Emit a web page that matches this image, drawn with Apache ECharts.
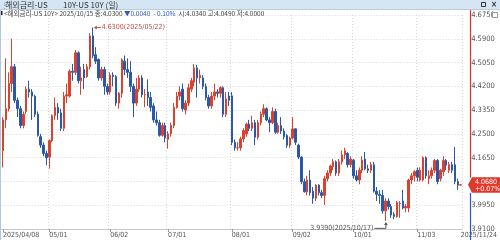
<!DOCTYPE html>
<html><head><meta charset="utf-8">
<script src="https://cdn.jsdelivr.net/npm/echarts@6/dist/echarts.min.js"></script>
<style>html,body{margin:0;padding:0;background:#fff;overflow:hidden}#c{width:500px;height:240px}</style>
</head><body><div id="c"></div>
<script>
// ---------- data ----------
const dates = [
'2025/04/08','2025/04/09','2025/04/10','2025/04/11','2025/04/14','2025/04/15','2025/04/16','2025/04/17','2025/04/21','2025/04/22','2025/04/23','2025/04/24','2025/04/25','2025/04/28','2025/04/29','2025/04/30',
'2025/05/01','2025/05/02','2025/05/05','2025/05/06','2025/05/07','2025/05/08','2025/05/09','2025/05/12','2025/05/13','2025/05/14','2025/05/15','2025/05/16','2025/05/19','2025/05/20','2025/05/21','2025/05/22','2025/05/23','2025/05/27','2025/05/28','2025/05/29','2025/05/30',
'2025/06/02','2025/06/03','2025/06/04','2025/06/05','2025/06/06','2025/06/09','2025/06/10','2025/06/11','2025/06/12','2025/06/13','2025/06/16','2025/06/17','2025/06/18','2025/06/20','2025/06/23','2025/06/24','2025/06/25','2025/06/26','2025/06/27','2025/06/30',
'2025/07/01','2025/07/02','2025/07/03','2025/07/07','2025/07/08','2025/07/09','2025/07/10','2025/07/11','2025/07/14','2025/07/15','2025/07/16','2025/07/17','2025/07/18','2025/07/21','2025/07/22','2025/07/23','2025/07/24','2025/07/25','2025/07/28','2025/07/29','2025/07/30','2025/07/31',
'2025/08/01','2025/08/04','2025/08/05','2025/08/06','2025/08/07','2025/08/08','2025/08/11','2025/08/12','2025/08/13','2025/08/14','2025/08/15','2025/08/18','2025/08/19','2025/08/20','2025/08/21','2025/08/22','2025/08/25','2025/08/26','2025/08/27','2025/08/28','2025/08/29',
'2025/09/02','2025/09/03','2025/09/04','2025/09/05','2025/09/08','2025/09/09','2025/09/10','2025/09/11','2025/09/12','2025/09/15','2025/09/16','2025/09/17','2025/09/18','2025/09/19','2025/09/22','2025/09/23','2025/09/24','2025/09/25','2025/09/26','2025/09/29','2025/09/30',
'2025/10/01','2025/10/02','2025/10/03','2025/10/06','2025/10/07','2025/10/08','2025/10/09','2025/10/10','2025/10/14','2025/10/15','2025/10/16','2025/10/17','2025/10/20','2025/10/21','2025/10/22','2025/10/23','2025/10/24','2025/10/27','2025/10/28','2025/10/29','2025/10/30','2025/10/31',
'2025/11/03','2025/11/04','2025/11/05','2025/11/06','2025/11/07','2025/11/10','2025/11/11','2025/11/12','2025/11/13','2025/11/14','2025/11/17','2025/11/18','2025/11/19','2025/11/20','2025/11/21','2025/11/24'
];
const openV = [
4.19,4.30,4.34,4.43,4.49,4.37,4.34,4.28,4.33,4.41,4.40,4.385,4.32,4.24,4.21,4.18,
4.167,4.226,4.315,4.345,4.325,4.27,4.385,4.385,4.474,4.47,4.54,4.44,4.48,4.455,4.49,4.60,4.533,4.516,4.45,4.48,4.42,4.40,4.46,4.455,4.36,4.395,
4.51,4.48,4.47,4.42,4.36,4.41,4.45,4.39,4.40,4.38,4.35,4.30,4.29,4.245,4.28,4.23,
4.25,4.28,4.345,4.385,4.41,4.335,4.36,4.41,4.435,4.486,4.45,4.45,4.42,4.38,4.35,4.385,4.40,4.395,4.415,4.32,4.385,4.386,
4.22,4.20,4.20,4.232,4.25,4.285,4.27,4.29,4.238,4.29,4.32,4.34,4.30,4.29,4.33,4.256,4.28,4.26,4.244,4.209,4.235,
4.268,4.21,4.167,4.079,4.043,4.085,4.045,4.02,4.067,4.04,4.03,4.09,4.11,4.133,4.15,4.11,4.15,4.175,4.18,4.14,
4.156,4.10,4.085,4.12,4.16,4.125,4.12,4.14,4.045,4.034,4.03,3.975,4.01,3.99,3.962,3.955,4.00,4.01,3.985,3.985,4.085,4.10,
4.12,4.085,4.085,4.165,4.09,4.10,4.12,4.155,4.09,4.115,4.155,4.12,4.14,4.14,4.08,4.067
];
const closeV = [
4.30,4.34,4.43,4.49,4.37,4.34,4.28,4.32,4.41,4.40,4.385,4.32,4.245,4.21,4.18,4.165,
4.226,4.315,4.345,4.325,4.27,4.385,4.39,4.474,4.47,4.54,4.44,4.45,4.45,4.49,4.60,4.53,4.51,4.45,4.48,4.42,4.40,4.46,4.455,4.36,4.395,4.515,
4.48,4.47,4.42,4.36,4.41,4.45,4.39,4.39,4.38,4.345,4.30,4.29,4.245,4.28,4.235,4.25,
4.28,4.345,4.385,4.40,4.34,4.36,4.415,4.44,4.486,4.45,4.46,4.42,4.38,4.35,4.385,4.40,4.395,4.415,4.32,4.375,4.37,4.22,
4.20,4.20,4.232,4.262,4.285,4.27,4.29,4.238,4.29,4.32,4.34,4.30,4.29,4.33,4.256,4.28,4.26,4.24,4.209,4.235,4.268,
4.22,4.167,4.079,4.043,4.085,4.04,4.02,4.067,4.04,4.03,4.09,4.11,4.135,4.15,4.11,4.15,4.175,4.19,4.14,4.16,
4.10,4.085,4.12,4.156,4.125,4.12,4.14,4.045,4.034,4.030,3.975,4.01,3.99,3.96,3.955,4.005,4.002,3.985,3.99,4.085,4.10,4.115,
4.095,4.12,4.165,4.10,4.10,4.12,4.155,4.08,4.12,4.155,4.138,4.14,4.12,4.08,4.067,4.068
];
const lowV = [
4.13,4.27,4.33,4.40,4.36,4.31,4.27,4.27,4.32,4.38,4.30,4.31,4.24,4.20,4.17,4.138,
4.126,4.22,4.30,4.30,4.26,4.26,4.36,4.38,4.44,4.46,4.43,4.39,4.41,4.45,4.48,4.52,4.50,4.44,4.44,4.39,4.39,4.39,4.42,4.35,4.34,4.38,
4.46,4.45,4.40,4.31,4.35,4.40,4.38,4.345,4.35,4.33,4.29,4.28,4.24,4.24,4.22,4.197,
4.24,4.27,4.34,4.37,4.33,4.32,4.35,4.40,4.42,4.38,4.43,4.41,4.37,4.34,4.34,4.37,4.38,4.38,4.31,4.31,4.35,4.21,
4.19,4.19,4.19,4.22,4.24,4.26,4.26,4.21,4.23,4.28,4.31,4.295,4.256,4.285,4.25,4.25,4.25,4.23,4.20,4.20,4.23,
4.21,4.16,4.07,4.04,4.03,4.03,4.00,4.01,4.03,4.02,3.996,4.08,4.10,4.12,4.10,4.10,4.14,4.16,4.13,4.13,
4.09,4.08,4.07,4.11,4.12,4.11,4.11,4.04,4.01,4.00,3.965,3.939,3.98,3.95,3.945,3.95,3.95,3.98,3.97,3.97,4.07,4.08,
4.08,4.08,4.08,4.09,4.07,4.09,4.11,4.07,4.08,4.10,4.12,4.11,4.11,4.07,4.05,4.065
];
const highV = [
4.31,4.52,4.47,4.59,4.50,4.38,4.35,4.33,4.42,4.44,4.41,4.39,4.33,4.25,4.22,4.19,
4.23,4.32,4.38,4.36,4.34,4.40,4.43,4.48,4.50,4.55,4.545,4.49,4.50,4.50,4.61,4.63,4.56,4.52,4.49,4.49,4.43,4.47,4.47,4.46,4.40,4.52,
4.53,4.52,4.51,4.43,4.45,4.46,4.46,4.41,4.445,4.40,4.36,4.33,4.30,4.29,4.29,4.26,
4.29,4.36,4.40,4.42,4.43,4.37,4.43,4.45,4.50,4.497,4.48,4.46,4.43,4.39,4.40,4.43,4.41,4.42,4.42,4.40,4.40,4.40,
4.23,4.22,4.24,4.27,4.29,4.30,4.315,4.30,4.30,4.33,4.356,4.345,4.31,4.345,4.34,4.29,4.31,4.27,4.25,4.24,4.31,
4.27,4.215,4.17,4.09,4.10,4.12,4.06,4.07,4.07,4.05,4.10,4.12,4.14,4.16,4.155,4.16,4.19,4.20,4.185,4.17,
4.16,4.12,4.13,4.17,4.185,4.14,4.15,4.15,4.06,4.049,4.05,4.02,4.02,4.00,3.97,4.01,4.01,4.05,4.00,4.09,4.11,4.12,
4.13,4.13,4.17,4.17,4.12,4.13,4.16,4.16,4.125,4.17,4.16,4.15,4.15,4.203,4.09,4.07
];
const yMin = 3.91, yMax = 4.675, yStep = 0.085;
const lastValue = 4.068, lastChange = '+0.07%';
const maxMark = { date: '2025/05/22', value: 4.63 };
const minMark = { date: '2025/10/17', value: 3.939 };
const titleLeft = '해외금리-US', titleRight = '10Y-US 10Y (일)';
const infoDate = '2025/10/15', infoClose = '4.0300', infoChg = '▼0.0040  - 0.10%', infoOpen = '4.0340', infoHigh = '4.0490', infoLow = '4.0000';

// ---------- chart ----------
const UP = '#dc412e', DOWN = '#2c58a8';
const F = "'Liberation Sans Narrow','DejaVu Sans Condensed','Liberation Sans','Noto Sans CJK KR',sans-serif";
const KF = "'Noto Sans CJK KR','Liberation Sans',sans-serif";
const ohlc = dates.map((d, i) => [openV[i], closeV[i], lowV[i], highV[i]]);
const isMonthStart = i => i === 0 || dates[i].slice(5, 7) !== dates[i - 1].slice(5, 7);
const showLabel = i => isMonthStart(i) || i === dates.length - 1;

const chart = echarts.init(document.getElementById('c'), null, { renderer: 'canvas' });
chart.setOption({
  animation: false,
  backgroundColor: '#fff',
  grid: { left: 0, right: 36, top: 15, bottom: 11, containLabel: false },
  xAxis: {
    type: 'category', data: dates, boundaryGap: true,
    axisLine: { show: true, lineStyle: { color: '#c8c8c8', width: 1 } },
    axisTick: { show: true, length: 3, alignWithLabel: true, interval: i => isMonthStart(i), lineStyle: { color: '#999' } },
    axisLabel: {
      interval: i => showLabel(i), align: 'left', margin: 3, fontSize: 7, color: '#555', fontFamily: F,
      formatter: (v, i) => (i === 0 || i === dates.length - 1) ? v : v.slice(5)
    },
    splitLine: { show: true, interval: i => isMonthStart(i) && i > 0, lineStyle: { color: '#d6d6d6', type: [1, 2] } }
  },
  yAxis: {
    type: 'value', position: 'right', offset: 6, min: yMin, max: yMax, interval: yStep, scale: true,
    axisLine: { show: false }, axisTick: { show: false },
    axisLabel: { fontSize: 7.5, color: '#555', fontFamily: F, margin: 3, formatter: v => v.toFixed(4), showMinLabel: true, showMaxLabel: true },
    splitLine: { show: true, lineStyle: { color: '#d6d6d6', type: [1, 2] } }
  },
  series: [{
    type: 'candlestick', data: ohlc, barWidth: 2,
    itemStyle: { color: UP, color0: DOWN, borderColor: UP, borderColor0: DOWN, borderWidth: 1 }
  }]
});

// ---------- overlays derived from the chart's own scales ----------
const px = (i, v) => chart.convertToPixel({ xAxisIndex: 0, yAxisIndex: 0 }, [i, v]);
const yLast = px(dates.length - 1, lastValue)[1];
const axisX = 470.5;
const maxIdx = dates.indexOf(maxMark.date), minIdx = dates.indexOf(minMark.date);
const pMax = px(maxIdx, maxMark.value), pMin = px(minIdx, minMark.value);
const g = [];
// header band
g.push({ type: 'rect', shape: { x: 0, y: 0, width: 500, height: 9 }, style: { fill: '#d5e5f3' }, z: 10 });
g.push({ type: 'line', shape: { x1: 0, y1: 9.5, x2: 500, y2: 9.5 }, style: { stroke: '#b9cde0', lineWidth: 1 }, z: 10 });
g.push({ type: 'text', x: 1, y: 5, style: { text: '⋮', fill: '#7a8a9a', verticalAlign: 'middle', font: '7px ' + KF }, z: 11 });
g.push({ type: 'text', x: 5, y: 5, style: { text: titleLeft, font: '8px ' + KF, fill: '#333', verticalAlign: 'middle' }, z: 11 });
g.push({ type: 'text', x: 63, y: 5, style: { text: titleRight, font: '8px ' + KF, fill: '#333', verticalAlign: 'middle' }, z: 11 });
g.push({ type: 'rect', shape: { x: 481.5, y: 2.5, width: 4, height: 4 }, style: { fill: 'none', stroke: '#333', lineWidth: 1 }, z: 11 });
g.push({ type: 'text', x: 491, y: 5, style: { text: '×', font: 'bold 8px ' + F, fill: '#333', verticalAlign: 'middle' }, z: 11 });
// info line
g.push({ type: 'rect', shape: { x: 1, y: 11, width: 1.5, height: 4 }, style: { fill: '#222' }, z: 11 });
g.push({ type: 'text', x: 4, y: 13.5, style: {
  text: '{b|<' + titleLeft + ' 10Y> ' + infoDate + ' 종:' + infoClose + ' }{c|' + infoChg + '}{b|  시:' + infoOpen + ' 고:' + infoHigh + ' 저:' + infoLow + '}',
  verticalAlign: 'middle',
  rich: { b: { font: '6.5px ' + KF, fill: '#444' }, c: { font: '6.5px ' + KF, fill: '#3158b0' } }
}, z: 11 });
// left border
g.push({ type: 'line', shape: { x1: 0.5, y1: 10, x2: 0.5, y2: 240 }, style: { stroke: '#b7c6d6', lineWidth: 1 }, z: 11 });
// right axis line (red above current, blue below)
g.push({ type: 'line', shape: { x1: axisX, y1: 10, x2: axisX, y2: yLast - 7 }, style: { stroke: '#d8302a', lineWidth: 1.2 }, z: 11 });
g.push({ type: 'line', shape: { x1: axisX, y1: yLast + 8, x2: axisX, y2: 240 }, style: { stroke: '#3158b0', lineWidth: 1.2 }, z: 11 });
// current value tag
g.push({ type: 'polygon', shape: { points: [[468, yLast], [472, yLast - 7.5], [500, yLast - 7.5], [500, yLast + 8], [472, yLast + 8]] }, style: { fill: '#e0382c' }, z: 12 });
g.push({ type: 'text', x: 475, y: yLast - 3, style: { text: lastValue.toFixed(4), font: '7px ' + F, fill: '#fff', verticalAlign: 'middle' }, z: 13 });
g.push({ type: 'text', x: 475, y: yLast + 4, style: { text: lastChange, font: '7px ' + F, fill: '#fff', verticalAlign: 'middle' }, z: 13 });
// icon near top label
g.push({ type: 'rect', shape: { x: 492.5, y: 12.5, width: 5, height: 5 }, style: { fill: '#fff', stroke: '#999', lineWidth: 1 }, z: 12 });
// max annotation
g.push({ type: 'line', shape: { x1: pMax[0] + 2, y1: pMax[1], x2: pMax[0] + 8, y2: pMax[1] }, style: { stroke: '#c0504d', lineWidth: 1 }, z: 12 });
g.push({ type: 'polygon', shape: { points: [[pMax[0] + 1, pMax[1]], [pMax[0] + 4, pMax[1] - 1.8], [pMax[0] + 4, pMax[1] + 1.8]] }, style: { fill: '#c0504d' }, z: 12 });
g.push({ type: 'text', x: pMax[0] + 9, y: pMax[1], style: { text: maxMark.value.toFixed(4) + '(' + maxMark.date + ')', font: '7px ' + F, fill: '#c0504d', verticalAlign: 'middle' }, z: 12 });
// min annotation
g.push({ type: 'polyline', shape: { points: [[pMin[0] - 11, pMin[1] + 7.5], [pMin[0] + 0.5, pMin[1] + 7.5], [pMin[0] + 0.5, pMin[1] + 2]] }, style: { stroke: '#555', lineWidth: 1, fill: 'none' }, z: 12 });
g.push({ type: 'polygon', shape: { points: [[pMin[0] + 0.5, pMin[1] + 1], [pMin[0] - 1.3, pMin[1] + 4], [pMin[0] + 2.3, pMin[1] + 4]] }, style: { fill: '#555' }, z: 12 });
g.push({ type: 'text', x: pMin[0] - 12, y: pMin[1] + 7.5, style: { text: minMark.value.toFixed(4) + '(' + minMark.date + ')', font: '7px ' + F, fill: '#555', align: 'right', verticalAlign: 'middle' }, z: 12 });
chart.setOption({ graphic: g });
</script>
</body></html>
